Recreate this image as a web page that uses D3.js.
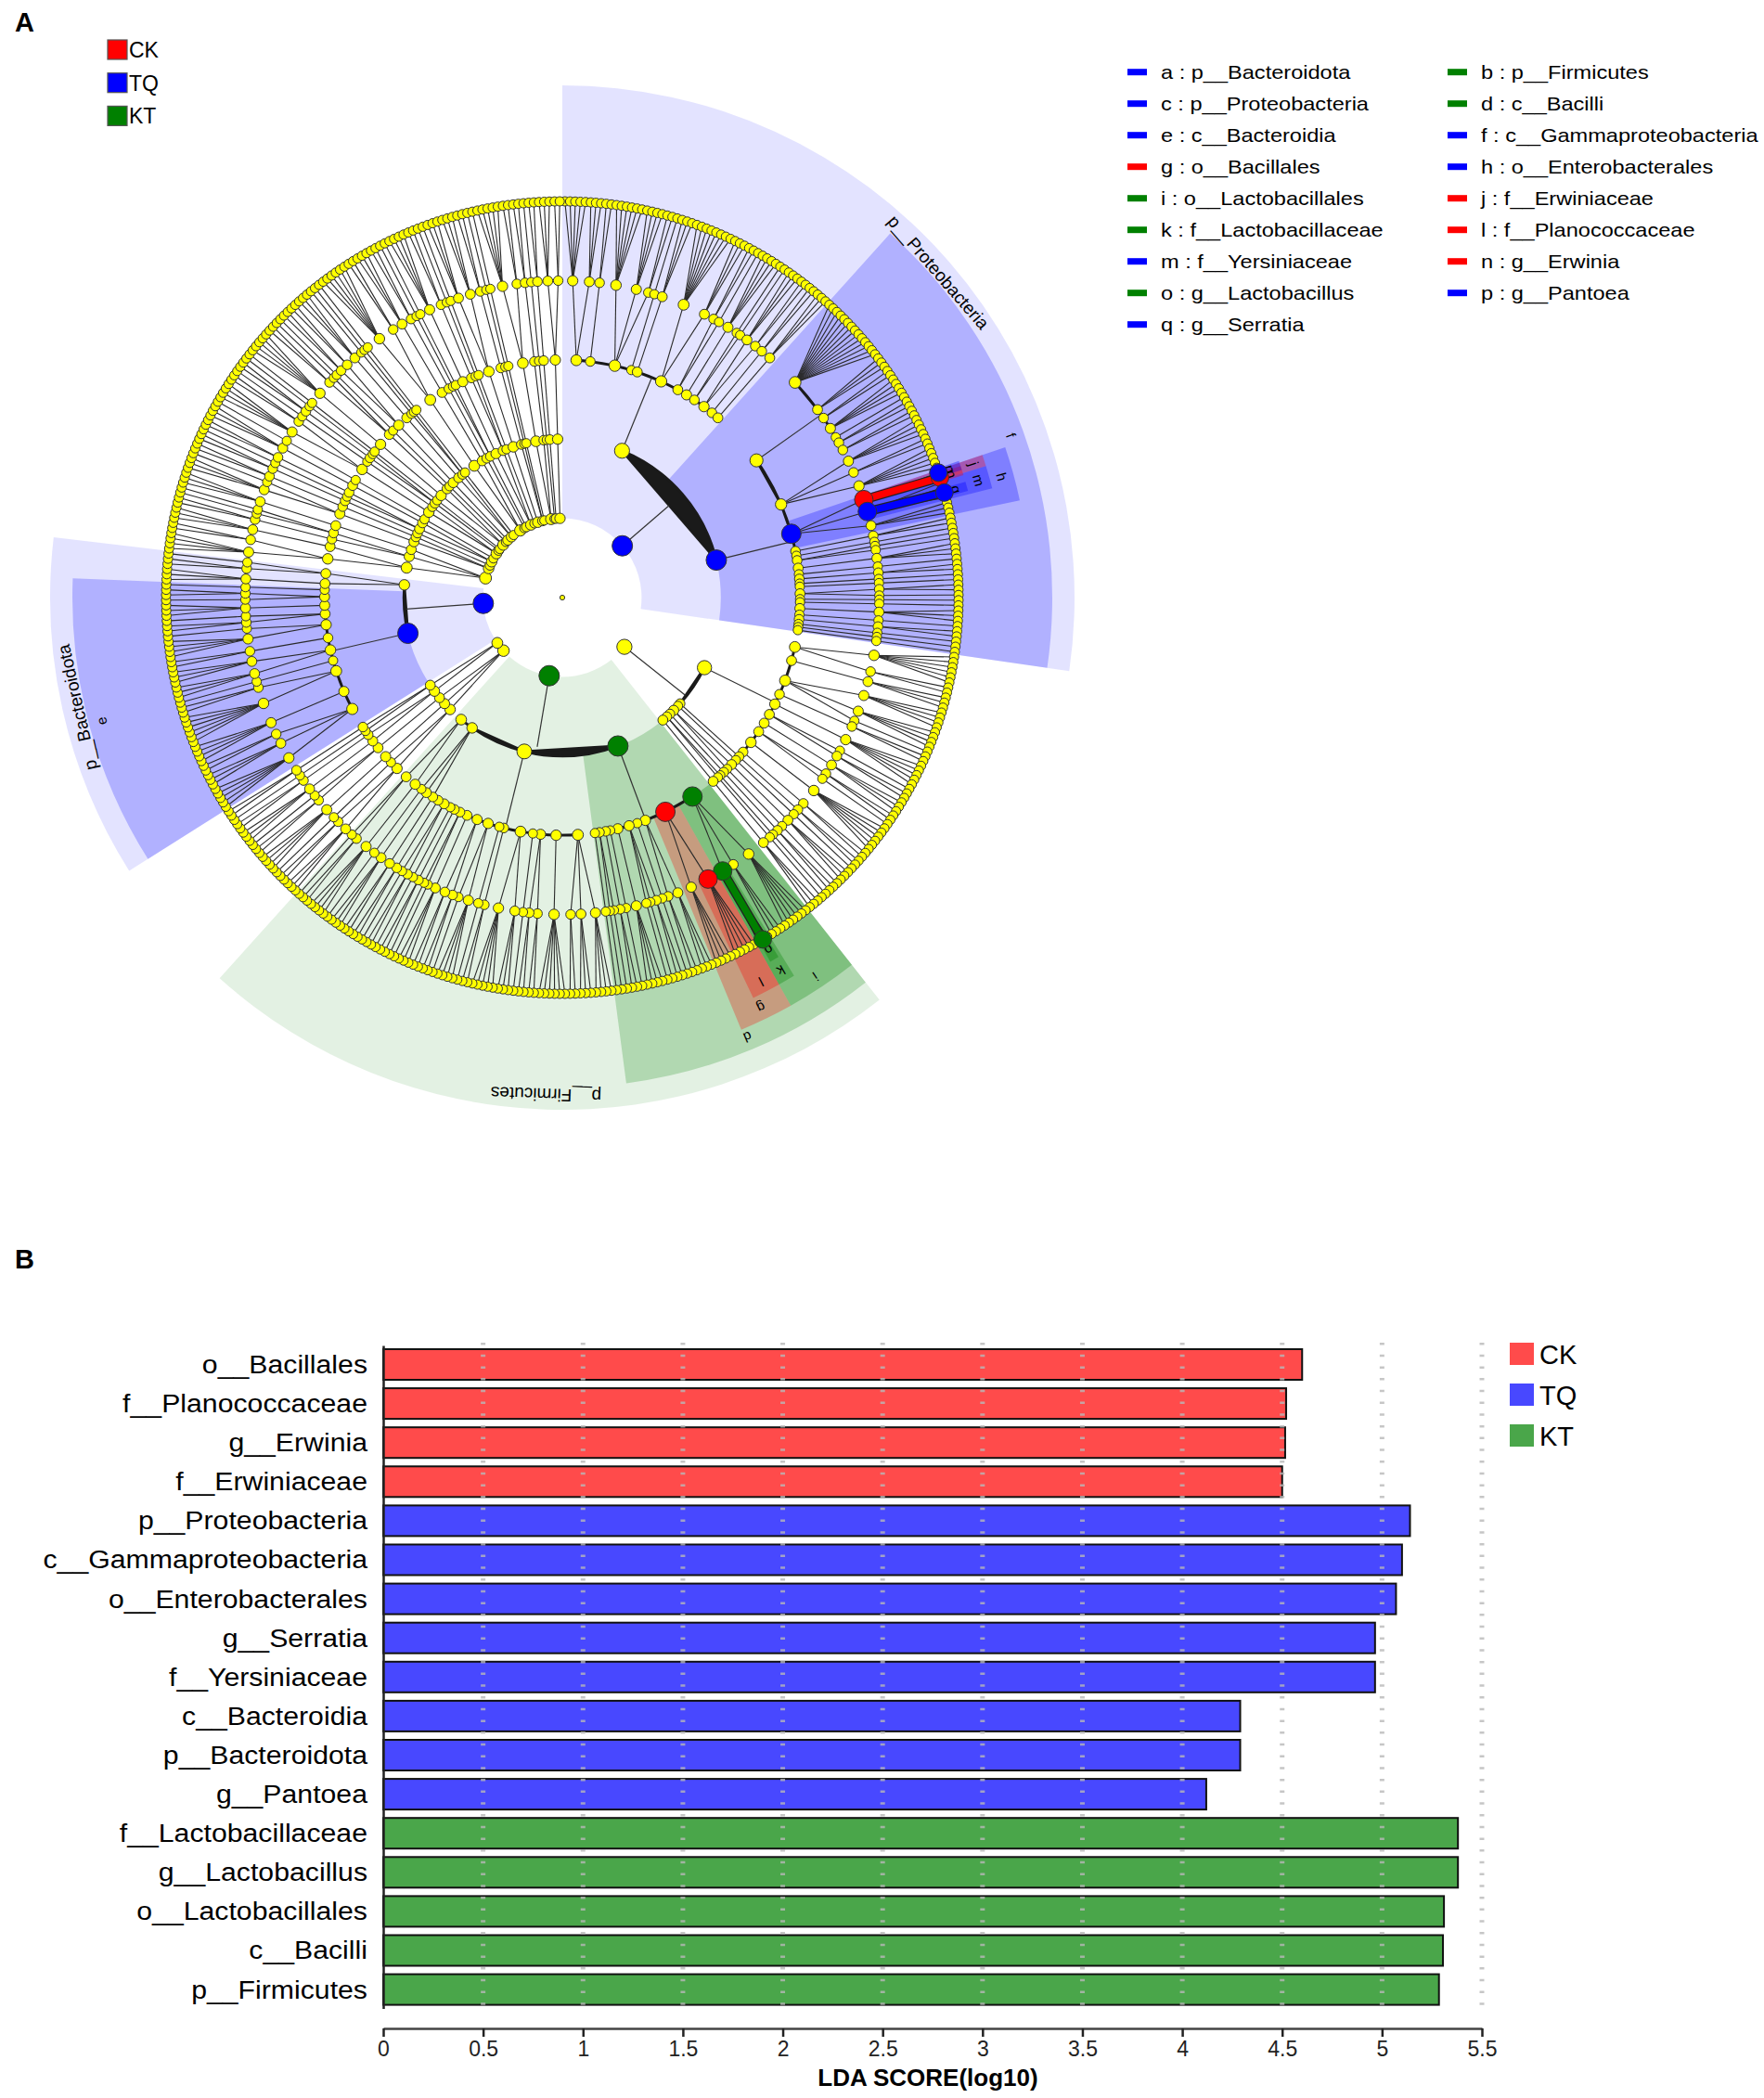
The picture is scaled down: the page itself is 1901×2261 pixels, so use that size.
<!DOCTYPE html>
<html>
<head>
<meta charset="utf-8">
<script src="https://cdn.jsdelivr.net/npm/d3@7"></script>
<style>
  body { margin: 0; background: #fff; }
  svg { display: block; }
  text { font-family: Arial, "Liberation Sans", sans-serif; }
</style>
</head>
<body>
<svg id="fig" width="1901" height="2261"></svg>
<script>
// ---- groups ----
var groups = ["CK", "TQ", "KT"];
var groupColors = ["#ff0000", "#0000ff", "#008000"];
var barColors = ["#ff4b4b", "#4848ff", "#4aa64a"];

// ---- panel B : LDA scores ----
var ldaNames = ["o__Bacillales", "f__Planococcaceae", "g__Erwinia", "f__Erwiniaceae",
  "p__Proteobacteria", "c__Gammaproteobacteria", "o__Enterobacterales", "g__Serratia",
  "f__Yersiniaceae", "c__Bacteroidia", "p__Bacteroidota", "g__Pantoea",
  "f__Lactobacillaceae", "g__Lactobacillus", "o__Lactobacillales", "c__Bacilli", "p__Firmicutes"];
var ldaScores = [4.60, 4.52, 4.515, 4.50, 5.14, 5.10, 5.07, 4.965, 4.965, 4.29, 4.29, 4.12,
  5.38, 5.38, 5.31, 5.305, 5.285];
var ldaGroups = ["CK", "CK", "CK", "CK", "TQ", "TQ", "TQ", "TQ", "TQ", "TQ", "TQ", "TQ",
  "KT", "KT", "KT", "KT", "KT"];
var ldaTicks = [0, 0.5, 1, 1.5, 2, 2.5, 3, 3.5, 4, 4.5, 5, 5.5];

// ---- panel A : cladogram ----
// phylum > class > order > family (number = genera in the family), clockwise from 12 o'clock
var proteobacteria = [
  [[5, 3], [2], [6, 4, 2], [1], [3], [8, 3], [2, 1], [4], [1, 1], [3, 2], [2], [3]],
  [[14, 3, 2, 4, 1, 2, 2], [4, 2, 5], [2, 4, 3], [2], [1], [1, 1], [3], [1], [2], [1], [1],
    [2, 1], [1], [1], [3], [1], [2], [1], [1], [1]]
];
var phylumY1 = [
  [[6, 2], [3], [4, 4, 1], [2], [5], [1, 2], [3], [2, 1], [6], [2]],
  [[2]], [[1]], [[3], [1]], [[2]], [[1], [1]], [[3]]
];
var firmicutes = [
  [[6, 3, 3], [5, 4], [3, 2], [1], [2, 1, 1], [4], [1], [2], [1, 1], [1]],
  [[4, 3, 2], [6], [2, 2], [1], [3, 5], [2], [1], [4, 1], [2, 2], [3], [1, 1], [2], [1], [2, 1], [2]],
  [[2], [3], [1]],
  [[4], [2, 1]]
];
var phylumY2a = [[[3, 2], [1]], [[4]], [[2, 1]]];
var phylumY2b = [[[3], [2]], [[1], [2]]];
var bacteroidota = [
  [[5, 3, 2], [4], [6, 2], [1], [3, 3], [2], [4, 1], [2, 1], [3], [1, 2], [1]],
  [[3], [2, 1]]
];
var phylumY3 = [[[4, 2], [3]], [[2], [1, 1]], [[3]]];
var smallPhyla = [
  [[[3, 1]], [[2]]], [[[2]]], [[[1], [2]], [[3]]], [[[1]]], [[[4, 2]], [[1]]], [[[2], [1]]],
  [[[1]]], [[[5]], [[2, 1]]], [[[1]]], [[[2, 2]]], [[[3]], [[1], [1]]], [[[1]]],
  [[[6, 2]], [[3]]], [[[2]]], [[[1], [1]]], [[[4]], [[2], [1]]], [[[1]]], [[[3, 3]]],
  [[[2]], [[1]]], [[[1]]], [[[5, 2]], [[2]]], [[[1]]], [[[2]]], [[[3, 2]]]
];
var phyla = [proteobacteria, phylumY1, firmicutes, phylumY2a, phylumY2b, bacteroidota, phylumY3]
  .concat(smallPhyla);

// biomarkers: letter, name, group, path of child indices from the root
var markerLetters = ["a", "b", "c", "d", "e", "f", "g", "h", "i", "j", "k", "l", "m", "n", "o", "p", "q"];
var markerNames = ["p__Bacteroidota", "p__Firmicutes", "p__Proteobacteria", "c__Bacilli",
  "c__Bacteroidia", "c__Gammaproteobacteria", "o__Bacillales", "o__Enterobacterales",
  "o__Lactobacillales", "f__Erwiniaceae", "f__Lactobacillaceae", "f__Planococcaceae",
  "f__Yersiniaceae", "g__Erwinia", "g__Lactobacillus", "g__Pantoea", "g__Serratia"];
var markerGroups = ["TQ", "KT", "TQ", "KT", "TQ", "TQ", "CK", "TQ", "KT", "CK", "KT", "CK",
  "TQ", "CK", "KT", "TQ", "TQ"];
var markerPaths = [[5], [2], [0], [2, 0], [5, 0], [0, 1], [2, 0, 1], [0, 1, 2], [2, 0, 0],
  [0, 1, 2, 0], [2, 0, 0, 2], [2, 0, 1, 0], [0, 1, 2, 1], [0, 1, 2, 0, 1], [2, 0, 0, 2, 1],
  [0, 1, 2, 0, 0], [0, 1, 2, 1, 2]];

var svg = d3.select("#fig");
function colorOf(g) { return groupColors[groups.indexOf(g)]; }

// ================= panel A =================
svg.append("text").attr("x", 16).attr("y", 34).attr("font-size", 29)
  .attr("font-weight", "bold").text("A");

var tl = svg.append("g");
groups.forEach(function(g, i) {
  tl.append("rect").attr("x", 116).attr("y", 43 + i * 35.7).attr("width", 21).attr("height", 21)
    .attr("fill", groupColors[i]).attr("stroke", "#555").attr("stroke-width", 1.2);
  tl.append("text").attr("x", 139).attr("y", 62 + i * 35.7).attr("font-size", 23).text(g);
});

// tree
function buildNode(spec, depth) {
  if (depth === 4) return { children: d3.range(spec).map(function() { return {}; }) };
  return { children: spec.map(function(s) { return buildNode(s, depth + 1); }) };
}
var root = d3.hierarchy({ children: phyla.map(function(p) { return buildNode(p, 1); }) });
var leaves = root.leaves();
var N = leaves.length;
var ang = d3.scaleLinear().domain([0, N]).range([0, 360]);
var rad = d3.scaleLinear().domain([0, 5]).range([0, 427]);
var nodeR = d3.scaleSqrt().domain([1, 131]).range([5, 10]).clamp(true);
leaves.forEach(function(l, i) { l.idx = i; l.angle = ang(i + 0.5); });
root.eachAfter(function(n) {
  if (n.children) {
    n.angle = (n.children[0].angle + n.children[n.children.length - 1].angle) / 2;
    n.nLeaves = d3.sum(n.children, function(c) { return c.nLeaves; });
  } else n.nLeaves = 1;
});

var cx = 606, cy = 644;
function pt(a, r) {
  var t = a * Math.PI / 180;
  return [r * Math.sin(t), -r * Math.cos(t)];
}
var outerR = [0, 552, 528, 504, 478, 452];
var labelR = [0, 536, 514, 491, 466, 440];
var sectorAlpha = [0, 0.11, 0.22, 0.28, 0.3, 0.35];

var markers = markerLetters.map(function(l, i) {
  var n = root;
  markerPaths[i].forEach(function(k) { n = n.children[k]; });
  n.marker = i;
  return n;
});

var clado = svg.append("g").attr("transform", "translate(" + cx + "," + cy + ")");
var gSect = clado.append("g"), gLab = clado.append("g"), gEdge = clado.append("g"),
  gBar = clado.append("g"), gNode = clado.append("g");

// highlighted sectors
var order = d3.range(markers.length).sort(function(a, b) { return markers[a].depth - markers[b].depth; });
order.forEach(function(i) {
  var n = markers[i], lv = n.leaves();
  var a0 = ang(lv[0].idx), a1 = ang(lv[lv.length - 1].idx + 1);
  if (a1 - a0 < 1.3) { var m = (a0 + a1) / 2; a0 = m - 0.65; a1 = m + 0.65; }
  var arc = d3.arc().innerRadius(rad(n.depth)).outerRadius(outerR[n.depth])
    .startAngle(a0 * Math.PI / 180).endAngle(a1 * Math.PI / 180);
  gSect.append("path").attr("d", arc()).attr("fill", colorOf(markerGroups[i]))
    .attr("fill-opacity", sectorAlpha[n.depth]);
  var mid = (a0 + a1) / 2, p = pt(mid, labelR[n.depth]);
  gLab.append("text").attr("font-size", n.depth === 1 ? 19 : 15)
    .attr("text-anchor", "middle").attr("dy", "0.35em")
    .attr("transform", "translate(" + p[0] + "," + p[1] + ") rotate(" + mid + ")")
    .text(n.depth === 1 ? markerNames[i] : markerLetters[i]);
});

// edges
root.each(function(n) {
  if (!n.children || n.depth === 0) return;
  var kids = n.children, span = kids[kids.length - 1].angle - kids[0].angle;
  var p0 = pt(n.angle, rad(n.depth));
  if (span > 12) {
    var rc = rad(n.depth + 1), gap = 0;
    for (var i = 0; i < kids.length - 1; i++) {
      if (kids[i].angle <= n.angle && kids[i + 1].angle >= n.angle) gap = kids[i + 1].angle - kids[i].angle;
      var a = pt(kids[i].angle, rc), b = pt(kids[i + 1].angle, rc);
      gEdge.append("path")
        .attr("d", "M" + a + "L" + b + "A" + rc + "," + rc + " 0 0 0 " + a + "Z")
        .attr("fill", "#1a1a1a").attr("stroke", "#1a1a1a").attr("stroke-width", 2.8)
        .attr("stroke-linejoin", "round");
    }
    var p1 = pt(n.angle, rc * Math.cos(gap / 2 * Math.PI / 180));
    gEdge.append("line").attr("x1", p0[0]).attr("y1", p0[1]).attr("x2", p1[0]).attr("y2", p1[1])
      .attr("stroke", "#333").attr("stroke-width", 1.2);
  } else {
    kids.forEach(function(k) {
      var p1 = pt(k.angle, rad(k.depth));
      gEdge.append("line").attr("x1", p0[0]).attr("y1", p0[1]).attr("x2", p1[0]).attr("y2", p1[1])
        .attr("stroke", "#2a2a2a").attr("stroke-width", 1.1);
    });
  }
});

// thick bars between a highlighted family and its highlighted genus
markers.forEach(function(n, i) {
  if (n.depth !== 5 || n.parent.marker === undefined) return;
  if (markerGroups[n.parent.marker] !== markerGroups[i]) return;
  var a = pt(n.parent.angle, rad(4)), b = pt(n.angle, rad(5));
  gBar.append("line").attr("x1", a[0]).attr("y1", a[1]).attr("x2", b[0]).attr("y2", b[1])
    .attr("stroke", "#222").attr("stroke-width", 10);
  gBar.append("line").attr("x1", a[0]).attr("y1", a[1]).attr("x2", b[0]).attr("y2", b[1])
    .attr("stroke", colorOf(markerGroups[i])).attr("stroke-width", 7.5);
});

// nodes, outer levels first
var all = root.descendants().sort(function(a, b) { return b.depth - a.depth; });
all.forEach(function(n) {
  if (n.marker !== undefined) return;
  var p = pt(n.angle, rad(n.depth));
  gNode.append("circle").attr("cx", p[0]).attr("cy", p[1])
    .attr("r", n.depth === 0 ? 2.6 : nodeR(n.nLeaves))
    .attr("fill", "#ffff00").attr("stroke", "#333").attr("stroke-width", 1);
});
var markerR = [0, 11, 11, 10.5, 10, 9.5];
order.forEach(function(i) {
  var n = markers[i], p = pt(n.angle, rad(n.depth));
  gNode.append("circle").attr("cx", p[0]).attr("cy", p[1]).attr("r", markerR[n.depth])
    .attr("fill", colorOf(markerGroups[i])).attr("stroke", "#333").attr("stroke-width", 1);
});

// letter legend
var lg = svg.append("g");
markerLetters.forEach(function(l, i) {
  var col = i % 2, row = Math.floor(i / 2);
  var x0 = col === 0 ? 1215 : 1560, yc = 77.7 + row * 34;
  lg.append("rect").attr("x", x0).attr("y", yc - 3.5).attr("width", 21).attr("height", 7)
    .attr("fill", colorOf(markerGroups[i]));
  lg.append("text").attr("font-size", 20.5)
    .attr("transform", "translate(" + (x0 + 36) + "," + (yc + 7.5) + ") scale(1.15,1)")
    .text(l + " : " + markerNames[i]);
});

// ================= panel B =================
svg.append("text").attr("x", 16).attr("y", 1367).attr("font-size", 29)
  .attr("font-weight", "bold").text("B");

var x = d3.scaleLinear().domain([0, 5.5]).range([413, 1597]);
var y = d3.scaleBand().domain(ldaNames).range([1450, 2164.6]).paddingInner(0.216).paddingOuter(0.095);

var gB = svg.append("g");
gB.selectAll("rect.bar").data(ldaNames).enter().append("rect").attr("class", "bar")
  .attr("x", x(0)).attr("y", function(d) { return y(d); })
  .attr("width", function(d, i) { return x(ldaScores[i]) - x(0); })
  .attr("height", y.bandwidth())
  .attr("fill", function(d, i) { return barColors[groups.indexOf(ldaGroups[i])]; })
  .attr("stroke", "#111").attr("stroke-width", 2);

gB.selectAll("line.grid").data(ldaTicks.slice(1)).enter().append("line").attr("class", "grid")
  .attr("x1", function(d) { return x(d); }).attr("x2", function(d) { return x(d); })
  .attr("y1", 1447).attr("y2", 2166)
  .attr("stroke", "#b8b8b8").attr("stroke-opacity", 0.8).attr("stroke-width", 5)
  .attr("stroke-dasharray", "2.5,10.2");

gB.selectAll("text.lab").data(ldaNames).enter().append("text").attr("class", "lab")
  .attr("font-size", 27).attr("text-anchor", "end").attr("dy", "0.35em")
  .attr("transform", function(d) {
    return "translate(396," + (y(d) + y.bandwidth() / 2) + ") scale(1.12,1)";
  })
  .text(function(d) { return d; });

var yAxis = svg.append("g").attr("transform", "translate(413,0)")
  .call(d3.axisLeft(y).tickSize(0).tickFormat(""));
yAxis.select(".domain").attr("stroke", "#222").attr("stroke-width", 2.5);

var xAxis = svg.append("g").attr("transform", "translate(0,2186)")
  .call(d3.axisBottom(x).tickValues(ldaTicks).tickSize(9).tickSizeOuter(0).tickPadding(5)
    .tickFormat(d3.format("")));
xAxis.select(".domain").attr("stroke", "#444").attr("stroke-width", 2.6);
xAxis.selectAll(".tick line").attr("stroke", "#222").attr("stroke-width", 2.5);
xAxis.selectAll(".tick text").attr("font-size", 23).attr("fill", "#222")
  .attr("font-family", "Arial, 'Liberation Sans', sans-serif");

svg.append("text").attr("x", 1000).attr("y", 2248).attr("text-anchor", "middle")
  .attr("font-size", 26).attr("font-weight", "bold").text("LDA SCORE(log10)");

// bar legend
groups.forEach(function(g, i) {
  svg.append("rect").attr("x", 1627).attr("y", 1447 + i * 44).attr("width", 26).attr("height", 24)
    .attr("fill", barColors[i]);
  svg.append("text").attr("x", 1659).attr("y", 1470 + i * 44).attr("font-size", 29).text(g);
});
</script>
</body>
</html>
